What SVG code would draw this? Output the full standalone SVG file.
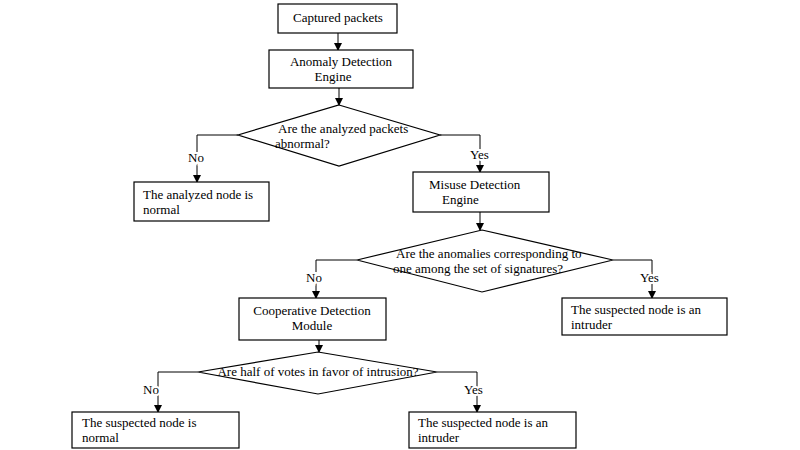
<svg xmlns="http://www.w3.org/2000/svg" width="800" height="450" viewBox="0 0 800 450">
<style>
.b{fill:#fff;stroke:#000;stroke-width:1.2}
.c{fill:none;stroke:#000;stroke-width:1}
text{font-family:"Liberation Serif",serif;font-size:13px;fill:#000}
.l{stroke:#fff;stroke-width:4px;paint-order:stroke}
</style>
<defs><marker id="a" markerWidth="8" markerHeight="8" refX="7" refY="4" orient="auto" markerUnits="userSpaceOnUse"><path d="M0,0L8,4L0,8z"/></marker></defs>
<rect width="800" height="450" fill="#fff"/>
<g id="connectors" class="c">
<path d="M338,33V50" marker-end="url(#a)"/>
<path d="M339,88V105" marker-end="url(#a)"/>
<path d="M238,135H197V182" marker-end="url(#a)"/>
<path d="M440,135H480V172" marker-end="url(#a)"/>
<path d="M480,212V230" marker-end="url(#a)"/>
<path d="M357,260H316V298" marker-end="url(#a)"/>
<path d="M613,260H652V298" marker-end="url(#a)"/>
<path d="M319,340V352" marker-end="url(#a)"/>
<path d="M198,372H158V412" marker-end="url(#a)"/>
<path d="M437,372H477V412" marker-end="url(#a)"/>
</g>
<g id="labels">
<text class="l" x="188" y="162">No</text>
<text class="l" x="470" y="159">Yes</text>
<text class="l" x="306" y="282">No</text>
<text class="l" x="640" y="282">Yes</text>
<text class="l" x="143" y="394">No</text>
<text class="l" x="464" y="394">Yes</text>
</g>
<g id="n1"><rect class="b" x="278" y="4" width="119" height="29"/><text x="338" y="22" text-anchor="middle">Captured packets</text></g>
<g id="n2"><rect class="b" x="269" y="50" width="144" height="38"/><text x="341" y="66" text-anchor="middle">Anomaly Detection</text><text x="333" y="81" text-anchor="middle">Engine</text></g>
<g id="d1"><path class="b" d="M339,105L440,135L339,166L238,135Z"/><text x="278" y="133">Are the analyzed packets</text><text x="275" y="148">abnormal?</text></g>
<g id="n3"><rect class="b" x="134" y="182" width="135" height="39"/><text x="143" y="199">The analyzed node is</text><text x="143" y="214">normal</text></g>
<g id="n4"><rect class="b" x="413" y="172" width="136" height="40"/><text x="429" y="189">Misuse Detection</text><text x="442" y="204">Engine</text></g>
<g id="d2"><path class="b" d="M482,230L613,260L482,292L357,260Z"/><text x="396" y="258">Are the anomalies corresponding to</text><text x="393" y="273">one among the set of signatures?</text></g>
<g id="n5"><rect class="b" x="239" y="298" width="147" height="42"/><text x="312" y="315" text-anchor="middle">Cooperative Detection</text><text x="312" y="330" text-anchor="middle">Module</text></g>
<g id="n6"><rect class="b" x="562" y="298" width="165" height="37"/><text x="571" y="314">The suspected node is an</text><text x="571" y="329">intruder</text></g>
<g id="d3"><path class="b" d="M318,352L437,372L318,394L198,372Z"/><text x="318" y="376" text-anchor="middle">Are half of votes in favor of intrusion?</text></g>
<g id="n7"><rect class="b" x="72" y="412" width="167" height="36"/><text x="82" y="427">The suspected node is</text><text x="82" y="442">normal</text></g>
<g id="n8"><rect class="b" x="409" y="412" width="167" height="36"/><text x="418" y="427">The suspected node is an</text><text x="418" y="442">intruder</text></g>
</svg>
